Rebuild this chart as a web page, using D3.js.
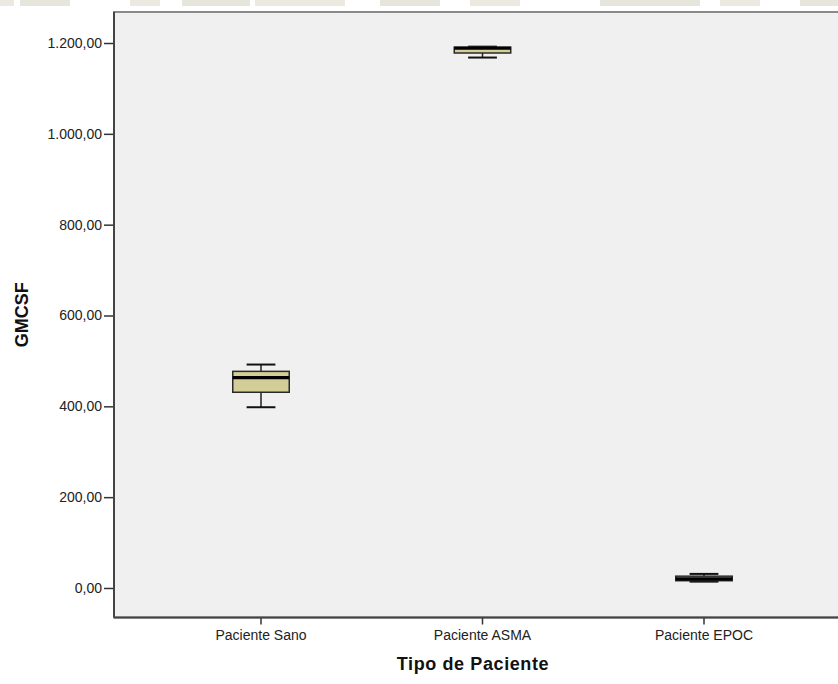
<!DOCTYPE html>
<html>
<head>
<meta charset="utf-8">
<script src="https://cdn.jsdelivr.net/npm/d3@7/dist/d3.min.js"></script>
<style>
  html, body { margin: 0; padding: 0; background: #ffffff; }
  svg { display: block; }
  text { font-family: Arial, "Liberation Sans", sans-serif; }
</style>
</head>
<body>
<svg id="chart" width="838" height="684"></svg>
<script>
// Patient groups on the horizontal axis
const categories = ["Paciente Sano", "Paciente ASMA", "Paciente EPOC"];

// Five-number summaries of GMCSF per group
const whiskerLow  = [398, 1168, 14];
const q1          = [431, 1178, 16];
const median      = [463, 1188.5, 20];
const q3          = [477, 1191, 26];
const whiskerHigh = [492, 1192, 31];

// Y-axis tick values
const yTicks = [0, 200, 400, 600, 800, 1000, 1200];

const yLabel = "GMCSF";
const xLabel = "Tipo de Paciente";

const svg = d3.select("#chart");
const W = 838, H = 684;
const plot = { left: 114, top: 12, right: 852, bottom: 617.5 };

const fmt = v => {
  // Spanish number format: thousands "." and decimals ","
  const s = v.toFixed(2).replace(".", ",");
  const [int, dec] = s.split(",");
  return int.replace(/\B(?=(\d{3})+(?!\d))/g, ".") + "," + dec;
};

const y = d3.scaleLinear().domain([-65, 1268.3]).range([plot.bottom, plot.top]);
const x = d3.scaleBand().domain(categories).range([150.25, 814.75]);
const boxW = x.bandwidth() * 0.255;
const capW = boxW * 0.51;

// faint decoration strip along the top edge
const strip = svg.append("g");
[[0, 14], [20, 70], [130, 160], [182, 250], [255, 345], [380, 440], [470, 520],
 [600, 700], [720, 760], [800, 838]].forEach(([a, b], i) => {
  strip.append("rect")
    .attr("x", a).attr("y", 0).attr("width", b - a).attr("height", 6)
    .attr("fill", i % 2 ? "#e7e6dc" : "#eceae0");
});

// plot background
svg.append("rect")
  .attr("x", plot.left).attr("y", plot.top)
  .attr("width", plot.right - plot.left).attr("height", plot.bottom - plot.top)
  .attr("fill", "#f0f0f0")
  .attr("stroke", "#8a8a8a").attr("stroke-width", 2);

// boxes
const data = categories.map((c, i) => ({
  c, lo: whiskerLow[i], q1: q1[i], med: median[i], q3: q3[i], hi: whiskerHigh[i]
}));

const g = svg.append("g");
data.forEach(d => {
  const cx = x(d.c) + x.bandwidth() / 2;
  const gg = g.append("g");
  // whisker stems
  gg.append("line").attr("x1", cx).attr("x2", cx)
    .attr("y1", y(d.hi)).attr("y2", y(d.q3))
    .attr("stroke", "#222").attr("stroke-width", 1.5);
  gg.append("line").attr("x1", cx).attr("x2", cx)
    .attr("y1", y(d.q1)).attr("y2", y(d.lo))
    .attr("stroke", "#222").attr("stroke-width", 1.5);
  // whisker caps
  [d.hi, d.lo].forEach(v => {
    gg.append("line").attr("x1", cx - capW / 2).attr("x2", cx + capW / 2)
      .attr("y1", y(v)).attr("y2", y(v))
      .attr("stroke", "#111").attr("stroke-width", 2);
  });
  // box
  gg.append("rect")
    .attr("x", cx - boxW / 2).attr("y", y(d.q3))
    .attr("width", boxW).attr("height", y(d.q1) - y(d.q3))
    .attr("fill", "#d3ce98").attr("stroke", "#2a2a2a").attr("stroke-width", 1.5);
  // median
  gg.append("line").attr("x1", cx - boxW / 2).attr("x2", cx + boxW / 2)
    .attr("y1", y(d.med)).attr("y2", y(d.med))
    .attr("stroke", "#000").attr("stroke-width", 3.2);
});

// left axis
const yAxis = svg.append("g")
  .attr("transform", `translate(${plot.left},0)`)
  .call(d3.axisLeft(y).tickValues(yTicks).tickFormat(fmt).tickSize(10).tickPadding(2).tickSizeOuter(0));
yAxis.select(".domain").remove();
yAxis.selectAll(".tick line").attr("stroke", "#333").attr("stroke-width", 1.5);
yAxis.selectAll(".tick text").attr("font-size", 14).attr("fill", "#222")
  .style("font-family", "Arial, 'Liberation Sans', sans-serif");

// bottom axis
const xAxis = svg.append("g")
  .attr("transform", `translate(0,${plot.bottom})`)
  .call(d3.axisBottom(x).tickSize(7).tickPadding(6).tickSizeOuter(0));
xAxis.select(".domain").remove();
xAxis.selectAll(".tick line").attr("stroke", "#333").attr("stroke-width", 1.5);
xAxis.selectAll(".tick text").attr("font-size", 14).attr("fill", "#222")
  .style("font-family", "Arial, 'Liberation Sans', sans-serif");

// left and bottom frame lines, darker than the rest
svg.append("line").attr("x1", plot.left).attr("x2", plot.left)
  .attr("y1", plot.top).attr("y2", plot.bottom)
  .attr("stroke", "#444").attr("stroke-width", 2);
svg.append("line").attr("x1", plot.left).attr("x2", W)
  .attr("y1", plot.bottom).attr("y2", plot.bottom)
  .attr("stroke", "#444").attr("stroke-width", 2);

// axis titles
svg.append("text")
  .attr("transform", `translate(28,${(plot.top + plot.bottom) / 2}) rotate(-90)`)
  .attr("text-anchor", "middle")
  .attr("font-size", 18).attr("font-weight", "bold").attr("fill", "#111")
  .text(yLabel);

svg.append("text")
  .attr("x", 473).attr("y", 670)
  .attr("text-anchor", "middle")
  .attr("font-size", 18).attr("font-weight", "bold").attr("fill", "#111")
  .attr("letter-spacing", 0.6)
  .text(xLabel);
</script>
</body>
</html>
